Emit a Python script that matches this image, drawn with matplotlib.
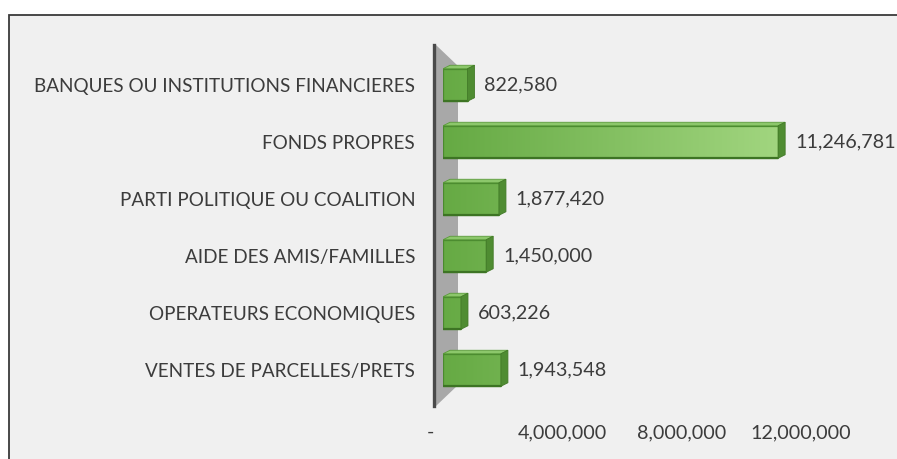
import numpy as np
import matplotlib
matplotlib.use("Agg")
import matplotlib.pyplot as plt
from matplotlib.patches import Polygon, Rectangle
from matplotlib.colors import LinearSegmentedColormap
from matplotlib.transforms import ScaledTranslation

categories = [
    "BANQUES OU INSTITUTIONS FINANCIERES",
    "FONDS PROPRES",
    "PARTI POLITIQUE OU COALITION",
    "AIDE DES AMIS/FAMILLES",
    "OPERATEURS ECONOMIQUES",
    "VENTES DE PARCELLES/PRETS",
]
values = [822580, 11246781, 1877420, 1450000, 603226, 1943548]
xticks = [0, 4000000, 8000000, 12000000]
xtick_labels = ["-", "4,000,000", "8,000,000", "12,000,000"]

W, H = 897, 459
plt.rcParams["font.family"] = ["Lato", "DejaVu Sans"]
text_color = "#3c3c3c"

fig = plt.figure(figsize=(W / 100, H / 100), dpi=100)
fig.patch.set_facecolor("white")

def px(x, y):
    # pixel (from top-left) -> figure fraction
    return (x / W, 1 - y / H)

# chart frame
fig.add_artist(Rectangle(px(9, 15), 1.2, -1.2, transform=fig.transFigure,
                         facecolor="#f0f0f0", edgecolor="#3a3a3a", lw=1.3, zorder=0))

# side wall of the 3D chart
wall = [px(436, 45), px(458, 66), px(458, 385), px(436, 406)]
fig.add_artist(Polygon(wall, closed=True, transform=fig.transFigure,
                       facecolor="#a8a8a8", edgecolor="none", zorder=1))
fig.add_artist(plt.Line2D([434 / W, 434 / W], [1 - 45 / H, 1 - 406 / H],
                          transform=fig.transFigure, color="#4a4a4a", lw=2.4, zorder=1))

# axes: data 0 at x=443 px, ~29.8 px per million
x0_px, scale = 443, 29.8e-6
ax_w = W - x0_px
ax = fig.add_axes([x0_px / W, 1 - 406 / H, ax_w / W, (406 - 45) / H])
ax.set_facecolor("none")
ax.set_zorder(2)
xmax = ax_w / scale
y_top, y_bot = (45 - 85) / 57, (406 - 85) / 57
ax.set_xlim(0, xmax)
ax.set_ylim(y_bot, y_top)

h = 0.57
dx = 7 / scale
dy = 3.5 / 57
cmap = LinearSegmentedColormap.from_list("g", ["#66aa44", "#a2d680"])
grad_end = 11500000

for i, v in enumerate(values):
    top, bot = i - h / 2, i + h / 2
    # front face with gradient along value axis
    g = np.linspace(0, v / grad_end, 64).reshape(1, -1)
    ax.imshow(g, cmap=cmap, vmin=0, vmax=1, aspect="auto",
              extent=(0, v, bot, top), zorder=3, interpolation="bilinear")
    ax.add_patch(Rectangle((0, top), v, h, facecolor="none",
                           edgecolor="#4a8a2e", lw=0.9, zorder=4))
    ax.plot([0, v], [bot, bot], color="#3d7424", lw=1.6, zorder=4,
            solid_capstyle="butt")
    # top face
    ax.add_patch(Polygon([(0, top), (v, top), (v + dx, top - dy), (dx, top - dy)],
                         closed=True, facecolor="#8cc76b", edgecolor="#5a9a3a",
                         lw=0.6, zorder=4))
    # right face
    ax.add_patch(Polygon([(v, top), (v + dx, top - dy), (v + dx, bot - dy), (v, bot)],
                         closed=True, facecolor="#4f8c32", edgecolor="#437a28",
                         lw=0.6, zorder=4))
    ax.annotate(f"{v:,}", xy=(v + dx, i), xytext=(7, 0), textcoords="offset points",
                ha="left", va="center", fontsize=14.2, color=text_color,
                annotation_clip=False)

for s in ax.spines.values():
    s.set_visible(False)
ax.set_yticks(range(len(categories)))
ax.set_yticklabels(categories)
ax.set_xticks(xticks)
ax.set_xticklabels(xtick_labels)
ax.tick_params(axis="y", length=0, pad=20, labelsize=13.6, labelcolor=text_color)
ax.tick_params(axis="x", length=0, pad=13, labelsize=14.2, labelcolor=text_color)
lbl0 = ax.get_xticklabels()[0]
lbl0.set_transform(lbl0.get_transform() + ScaledTranslation(-13 / 100, 0, fig.dpi_scale_trans))

fig.savefig("out.png", dpi=100)
